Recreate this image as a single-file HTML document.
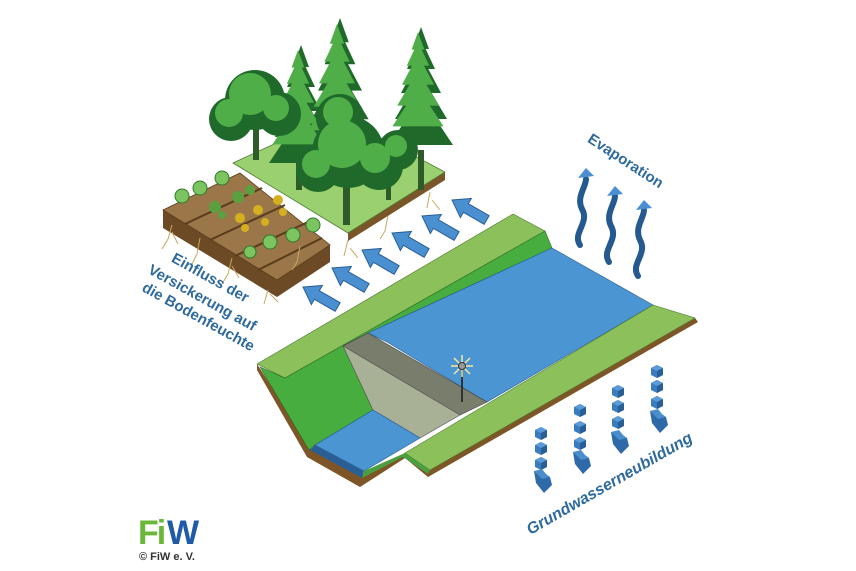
<!DOCTYPE html>
<html><head><meta charset="utf-8"><style>
html,body{margin:0;padding:0;background:#fff;}
svg{display:block;}
text{font-family:"Liberation Sans",sans-serif;font-weight:bold;}
</style></head><body>
<svg width="856" height="571" viewBox="0 0 856 571" xmlns="http://www.w3.org/2000/svg">
<defs>
<g id="arr"><polygon points="0,0 16,-11 16,-5 40,-5 40,5 16,5 16,11" fill="#4a90d0" stroke="#2a5f95" stroke-width="1"/></g>
<g id="cube"><polygon points="0,-5 6,-2 6,5 0,8 -6,5 -6,-2" fill="#3a7cc0"/><polygon points="0,-5 6,-2 0,1 -6,-2" fill="#5a9ad6"/><polygon points="0,1 6,-2 6,5 0,8" fill="#2a5f95"/></g>
<g id="head"><polygon points="-8,-6 8,0 10,8 2,16 -6,6" fill="#2f6aa8"/><polygon points="-8,-6 0,-8 4,-3 8,0 0,2" fill="#4a8ccc"/></g>
<g id="fir"><polygon points="0,0 -8,22 8,22" /><polygon points="0,12 -14,42 14,42"/><polygon points="0,28 -20,66 20,66"/><polygon points="0,48 -26,92 26,92"/><polygon points="0,70 -32,118 32,118"/></g>
</defs>

<!-- brown soil under channel -->
<polygon points="257,364 257,370 307,457 360,487 405,458 428,477 698,322 695,318 430,470 405,453 362,475 312,450" fill="#7d5526"/>
<!-- left outer bank top -->
<polygon points="257,364 513,214 545,231 285,378" fill="#8bc05a" stroke="#4e7a30" stroke-width="0.6"/>
<!-- left slope -->
<polygon points="260,367 285,378 545,231 552,248 368,333 343,346 373,410 315,445 309,450" fill="#46ad3e" stroke="#2e6a28" stroke-width="0.6"/>
<!-- upper water -->
<polygon points="552,248 653,305 487,402 387,342 368,333" fill="#4a95d2" stroke="#2a5f95" stroke-width="0.6"/>
<!-- dam top -->
<polygon points="343,346 368,333 487,402 460,415" fill="#797d6c" stroke="#444" stroke-width="0.6"/>
<!-- dam face -->
<polygon points="343,346 460,415 420,438 373,410" fill="#a8b096" stroke="#555" stroke-width="0.6"/>
<!-- lower water -->
<polygon points="373,410 420,438 364,471 315,445" fill="#4a95d2" stroke="#2a5f95" stroke-width="0.6"/>
<polygon points="315,445 364,471 362,478 310,450" fill="#2a5f95"/>
<!-- right bank -->
<polygon points="653,305 695,318 430,470 405,453" fill="#8bc05a" stroke="#4e7a30" stroke-width="0.6"/>
<polygon points="405,453 430,470 428,474 403,457" fill="#4aa03e"/>
<polygon points="364,471 405,453 403,457 362,478" fill="#4aa03e"/>
<!-- light pole -->
<line x1="462" y1="366" x2="462" y2="402" stroke="#333" stroke-width="2"/>
<g stroke="#f4e8a0" stroke-width="1.5"><line x1="454" y1="358" x2="470" y2="374"/><line x1="470" y1="358" x2="454" y2="374"/><line x1="462" y1="355" x2="462" y2="377"/><line x1="451" y1="366" x2="473" y2="366"/></g>
<circle cx="462" cy="366" r="3.5" fill="#999" stroke="#333"/>

<!-- field -->
<polygon points="163,210 240,173 330,245 330,262 277,297 163,228" fill="#6b4a25"/>
<polygon points="163,210 240,173 330,245 277,280" fill="#9a7648" stroke="#5a3c1c" stroke-width="0.8"/>
<g stroke="#5a3c1c" stroke-width="2" fill="none"><line x1="185" y1="224" x2="262" y2="188"/><line x1="210" y1="240" x2="285" y2="205"/><line x1="235" y1="256" x2="308" y2="222"/><line x1="258" y1="270" x2="322" y2="238"/></g>
<g fill="#7cc460" stroke="#2f7a2a" stroke-width="1">
<circle cx="182" cy="196" r="7"/><circle cx="200" cy="188" r="7"/><circle cx="222" cy="178" r="7"/>
<circle cx="270" cy="242" r="7"/><circle cx="293" cy="235" r="7"/><circle cx="313" cy="225" r="7"/><circle cx="250" cy="252" r="6"/>
</g>
<g fill="#5aa040"><circle cx="215" cy="207" r="6"/><circle cx="238" cy="197" r="6"/><circle cx="250" cy="190" r="5"/><circle cx="222" cy="215" r="4"/></g>
<g fill="#d4b020"><circle cx="240" cy="218" r="5"/><circle cx="258" cy="210" r="5"/><circle cx="278" cy="200" r="5"/><circle cx="245" cy="228" r="4"/><circle cx="265" cy="222" r="4"/><circle cx="283" cy="212" r="4"/></g>
<!-- roots -->
<g stroke="#c9a860" stroke-width="1" fill="none">
<path d="M172,225 l-4,14 l-6,10 M172,232 l6,12"/><path d="M200,238 l-3,16 l-5,10"/><path d="M232,258 l-4,16 l-6,10 M232,266 l7,12"/><path d="M268,290 l-4,14 M270,294 l8,8"/>
<path d="M300,246 l-3,16 l-5,8"/><path d="M348,240 l-4,16 M350,248 l8,10"/><path d="M388,215 l-3,16 l-5,8"/><path d="M430,192 l-3,16 M432,200 l8,10"/>
</g>

<!-- forest platform -->
<polygon points="233,163 348,233 348,241 445,180 445,172 348,233" fill="#7a5528"/>
<polygon points="233,163 337,115 445,172 348,233" fill="#9ad070" stroke="#4e7a30" stroke-width="0.8"/>
<!-- trees -->
<g fill="#2f5a2a"><rect x="253" y="120" width="6" height="40"/><rect x="343" y="170" width="7" height="55"/><rect x="386" y="160" width="5" height="40"/><rect x="418" y="150" width="6" height="40"/><rect x="296" y="150" width="6" height="40"/></g>
<g fill="#1f6a2a"><use href="#fir" transform="translate(301,45)"/><use href="#fir" transform="translate(340,18) scale(1.1)"/><use href="#fir" transform="translate(421,27)"/></g>
<g fill="#4fae48"><use href="#fir" transform="translate(298,50) scale(0.8)"/><use href="#fir" transform="translate(337,24) scale(0.9)"/><use href="#fir" transform="translate(418,32) scale(0.8)"/></g>
<g fill="#1f6a2a"><circle cx="255" cy="100" r="30"/><circle cx="231" cy="119" r="22"/><circle cx="279" cy="114" r="22"/>
<circle cx="348" cy="152" r="36"/><circle cx="318" cy="170" r="22"/><circle cx="379" cy="166" r="24"/><circle cx="398" cy="150" r="20"/><circle cx="340" cy="118" r="24"/></g>
<g fill="#4fae48"><circle cx="250" cy="94" r="21"/><circle cx="229" cy="113" r="14"/><circle cx="276" cy="108" r="13"/><circle cx="342" cy="144" r="24"/><circle cx="316" cy="164" r="14"/><circle cx="375" cy="158" r="15"/><circle cx="338" cy="112" r="15"/><circle cx="396" cy="146" r="11"/></g>

<!-- infiltration arrows -->
<use href="#arr" transform="translate(303,287) rotate(30)"/>
<use href="#arr" transform="translate(332,268) rotate(30)"/>
<use href="#arr" transform="translate(362,250) rotate(30)"/>
<use href="#arr" transform="translate(392,233) rotate(30)"/>
<use href="#arr" transform="translate(422,216) rotate(30)"/>
<use href="#arr" transform="translate(452,200) rotate(30)"/>

<!-- evaporation arrows -->
<g fill="none" stroke="#245a90" stroke-width="6" stroke-linecap="round">
<path d="M580,245 c-8,-12 10,-22 2,-36 c-6,-12 4,-22 4,-30"/>
<path d="M609,262 c-8,-12 10,-22 2,-36 c-6,-12 4,-22 4,-30"/>
<path d="M638,276 c-8,-12 10,-22 2,-36 c-6,-12 4,-22 4,-30"/>
</g>
<g fill="#4a90d0"><polygon points="578,178 586,168 594,176"/><polygon points="607,196 615,186 623,194"/><polygon points="636,210 644,200 652,208"/></g>

<!-- groundwater cubes -->
<use href="#cube" transform="translate(541,432)"/><use href="#cube" transform="translate(541,447)"/><use href="#cube" transform="translate(541,462)"/><use href="#head" transform="translate(542,477)"/>
<use href="#cube" transform="translate(580,409)"/><use href="#cube" transform="translate(580,426)"/><use href="#cube" transform="translate(580,442)"/><use href="#head" transform="translate(581,458)"/>
<use href="#cube" transform="translate(618,390)"/><use href="#cube" transform="translate(618,405)"/><use href="#cube" transform="translate(618,421)"/><use href="#head" transform="translate(619,438)"/>
<use href="#cube" transform="translate(657,370)"/><use href="#cube" transform="translate(657,385)"/><use href="#cube" transform="translate(657,401)"/><use href="#head" transform="translate(658,417)"/>

<!-- labels -->
<g fill="#2e6a9e" font-size="15">
<text x="623" y="165" text-anchor="middle" transform="rotate(33 623 165)">Evaporation</text>
<text x="208" y="282" text-anchor="middle" transform="rotate(29 208 282)">Einfluss der</text>
<text x="200" y="302" text-anchor="middle" transform="rotate(29 200 302)">Versickerung auf</text>
<text x="196" y="321" text-anchor="middle" transform="rotate(29 196 321)">die Bodenfeuchte</text>
<text x="612" y="488" text-anchor="middle" font-style="italic" font-size="16" transform="rotate(-30 612 488)">Grundwasserneubildung</text>
</g>
<!-- logo -->
<text x="138" y="544" font-size="34" fill="#6ab83a" style="letter-spacing:-2px">Fi</text>
<text x="167" y="544" font-size="34" fill="#1f5aa8">W</text>
<text x="139" y="560" font-size="11" fill="#333" font-weight="normal">© FiW e. V.</text>
</svg>
</body></html>
